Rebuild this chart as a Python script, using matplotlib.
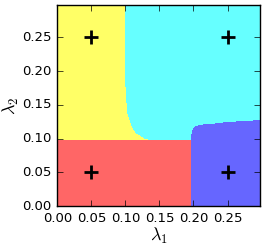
import numpy as np
import matplotlib
matplotlib.use('Agg')
import matplotlib.pyplot as plt
from matplotlib.colors import ListedColormap

plt.style.use('classic')

# class centres
centers_x = [0.05, 0.05, 0.25, 0.25]
centers_y = [0.05, 0.25, 0.05, 0.25]

# yellow / cyan border: lambda1 as a function of lambda2
border_y = [0.098, 0.100, 0.103, 0.108, 0.118, 0.138, 0.160, 0.188, 0.250, 0.300]
border_x = [0.135, 0.128, 0.1235, 0.115, 0.109, 0.103, 0.101, 0.100, 0.099, 0.099]
# top of the blue region: lambda2 as a function of lambda1
blue_x = [0.197, 0.199, 0.203, 0.210, 0.230, 0.260, 0.300]
blue_top = [0.106, 0.114, 0.118, 0.120, 0.122, 0.125, 0.127]
red_top = 0.098
blue_left = 0.197

lim = 0.2975
ticks = [0.00, 0.05, 0.10, 0.15, 0.20, 0.25]

g = np.linspace(0, lim, 700)
l1, l2 = np.meshgrid(g, g)
lab = np.full(l1.shape, 2)  # cyan
lab[l1 < np.interp(l2, border_y, border_x)] = 1  # yellow
lab[(l2 < red_top) & (l1 < blue_left)] = 0  # red
lab[(l1 >= blue_left) & (l2 < np.interp(l1, blue_x, blue_top))] = 3  # blue

fig = plt.figure(figsize=(2.66, 2.5), dpi=100, facecolor='white')
ax = fig.add_axes([0.2155, 0.176, 0.7615, 0.803])
cmap = ListedColormap(['red', 'yellow', 'cyan', 'blue'])
ax.imshow(lab, origin='lower', extent=[0, lim, 0, lim], cmap=cmap, alpha=0.6,
          vmin=-0.5, vmax=3.5, aspect='auto', interpolation='nearest')
ax.plot(centers_x, centers_y, 'k+', markersize=10, mew=2)
ax.set_xlim(0, lim)
ax.set_ylim(0, lim)
ax.set_xticks(ticks)
ax.set_yticks(ticks)
ax.tick_params(labelsize=9.5)
ax.set_xlabel(r'$\lambda_1$', fontsize=13, labelpad=1)
ax.set_ylabel(r'$\lambda_2$', fontsize=13, labelpad=1)
fig.savefig('out.png', dpi=100, facecolor='white')
